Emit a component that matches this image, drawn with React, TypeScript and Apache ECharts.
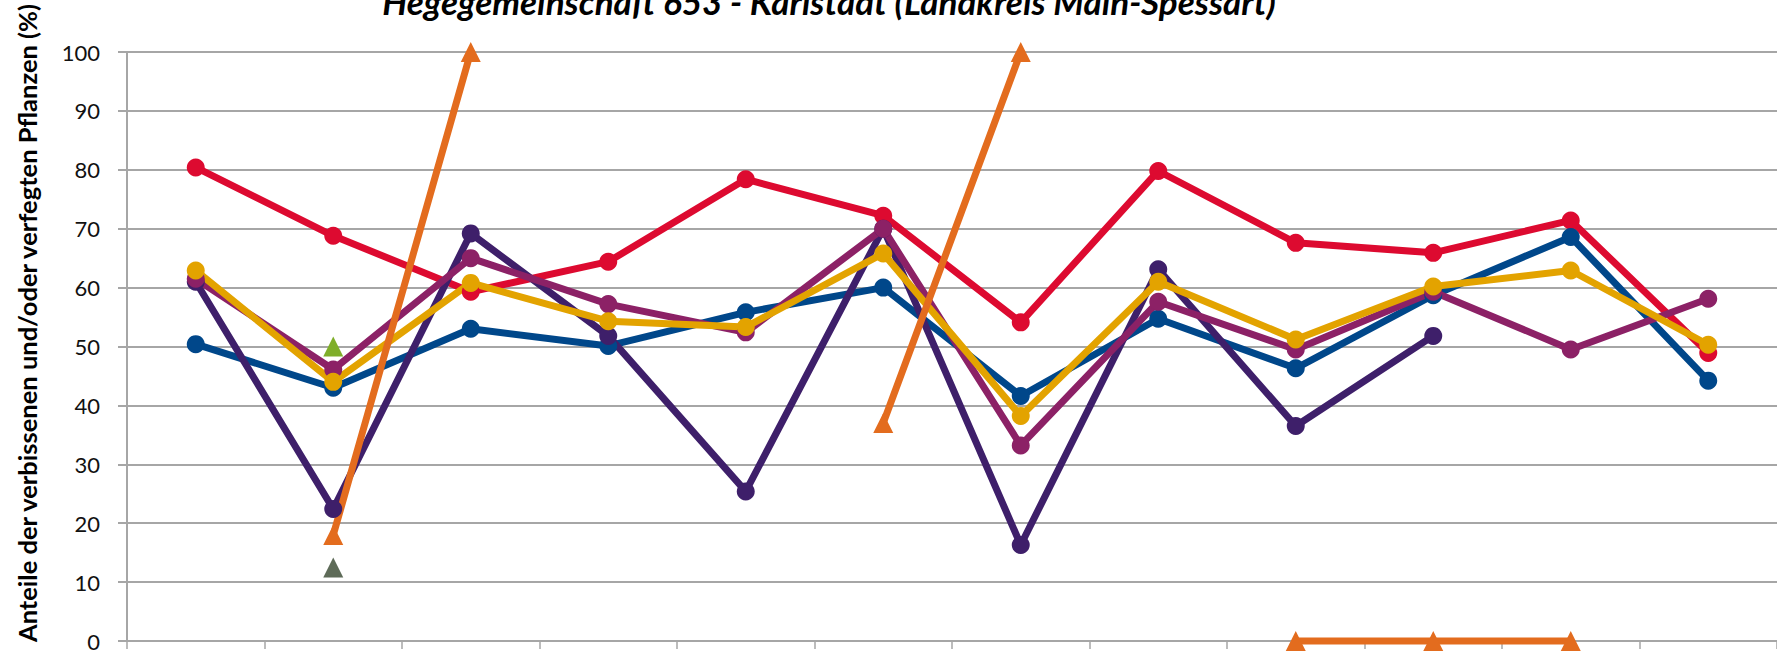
import React, { useEffect, useRef } from "react";
import * as echarts from "echarts";

const categories = ["1", "2", "3", "4", "5", "6", "7", "8", "9", "10", "11", "12"];
const yTicks = [0, 10, 20, 30, 40, 50, 60, 70, 80, 90, 100];

const redValues = [80.4, 68.8, 59.3, 64.4, 78.4, 72.2, 54.1, 79.8, 67.6, 65.9, 71.4, 48.9];
const blueValues = [50.4, 43.0, 53.0, 50.1, 55.8, 60.0, 41.6, 54.7, 46.3, 58.7, 68.6, 44.2];
const purpleValues = [61.0, 22.4, 69.2, 51.8, 25.4, 70.0, 16.3, 63.1, 36.5, 51.8, null, null];
const magentaValues = [61.5, 46.1, 65.0, 57.2, 52.4, 70.0, 33.2, 57.6, 49.5, 59.3, 49.5, 58.1];
const goldValues = [62.9, 44.0, 60.8, 54.3, 53.3, 65.8, 38.2, 61.0, 51.2, 60.2, 62.9, 50.3];
const orangeValues = [null, 18.0, 100, null, null, 37.0, 100, null, 0, 0, 0, null];
const greenValues = [null, 50.0, null, null, null, null, null, null, null, null, null, null];
const grayValues = [null, 12.5, null, null, null, null, null, null, null, null, null, null];

const titleText = "Hegegemeinschaft 653 - Karlstadt (Landkreis Main-Spessart)";
const yAxisName = "Anteile der verbissenen und/oder verfegten Pflanzen (%)";

const FONT = "Lato, 'Open Sans', sans-serif";

function circleSeries(name: string, data: (number | null)[], color: string) {
  return {
    name,
    type: "line",
    data,
    symbol: "circle",
    symbolSize: 18,
    showAllSymbol: true,
    connectNulls: false,
    clip: false,
    lineStyle: { color, width: 7, cap: "round", join: "round" },
    itemStyle: { color },
    emphasis: { disabled: true },
    silent: true,
  };
}

function triangleSeries(name: string, data: (number | null)[], color: string) {
  return {
    name,
    type: "line",
    data,
    symbol: "triangle",
    symbolSize: [20, 20],
    showAllSymbol: true,
    connectNulls: false,
    clip: false,
    lineStyle: { color, width: 7, cap: "round", join: "round" },
    itemStyle: { color },
    emphasis: { disabled: true },
    silent: true,
  };
}

export default function App() {
  const ref = useRef<HTMLDivElement>(null);
  useEffect(() => {
    if (!ref.current) return;
    const chart = echarts.init(ref.current, undefined, { renderer: "svg" });
    chart.setOption({
      animation: false,
      backgroundColor: "#ffffff",
      grid: { left: 127, top: 52, width: 1663, height: 593, containLabel: false },
      xAxis: {
        type: "category",
        data: categories,
        boundaryGap: true,
        axisLine: { show: true, lineStyle: { color: "#A6A6A6", width: 2 } },
        axisTick: { show: true, length: 8, interval: 0, lineStyle: { color: "#A6A6A6", width: 1.5 } },
        axisLabel: { show: false },
        splitLine: { show: false },
      },
      yAxis: {
        type: "value",
        min: yTicks[0],
        max: yTicks[yTicks.length - 1],
        interval: 10,
        axisLine: { show: true, lineStyle: { color: "#A6A6A6", width: 2 } },
        axisTick: { show: true, length: 9, lineStyle: { color: "#A6A6A6", width: 2 } },
        axisLabel: { fontSize: 22, fontFamily: FONT, color: "#111", margin: 27 },
        splitLine: { show: true, lineStyle: { color: "#A6A6A6", width: 2 } },
      },
      series: [
        circleSeries("Rot", redValues, "#DD0A30"),
        circleSeries("Blau", blueValues, "#00478A"),
        circleSeries("Violett", purpleValues, "#3E1F6A"),
        circleSeries("Magenta", magentaValues, "#8C2166"),
        circleSeries("Gold", goldValues, "#E3A300"),
        triangleSeries("Orange", orangeValues, "#E36C1E"),
        triangleSeries("Grün", greenValues, "#7FAE2A"),
        triangleSeries("Grau", grayValues, "#5E6B58"),
      ],
      graphic: [
        {
          type: "text",
          x: 829,
          y: 1,
          silent: true,
          style: {
            text: titleText,
            font: "italic bold 35px " + FONT,
            fill: "#000",
            align: "center",
            verticalAlign: "middle",
          },
        },
        {
          type: "text",
          x: 27,
          y: 323,
          rotation: Math.PI / 2,
          silent: true,
          style: {
            text: yAxisName,
            font: "bold 25.5px " + FONT,
            fill: "#000",
            align: "center",
            verticalAlign: "middle",
          },
        },
      ],
    });
    return () => chart.dispose();
  }, []);
  return (
    <div
      ref={ref}
      style={{ position: "fixed", left: 0, top: 0, width: 1777, height: 652, background: "#fff" }}
    />
  );
}
